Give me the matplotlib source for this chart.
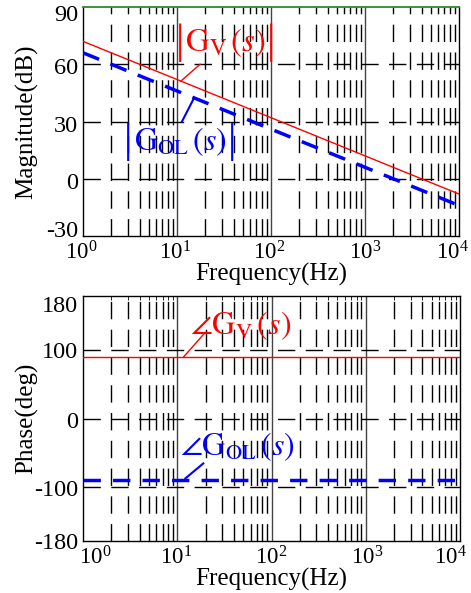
import numpy as np
import matplotlib
matplotlib.use("Agg")
import matplotlib.pyplot as plt
from matplotlib.transforms import ScaledTranslation

plt.rcParams['font.family'] = ['Liberation Serif', 'DejaVu Serif']
plt.rcParams['mathtext.fontset'] = 'stix'
plt.rcParams['axes.unicode_minus'] = False

# ---- data ----
freq_points = [1, 10, 100, 1000, 10000]
gv_mag_db = [72, 52, 32, 12, -8]
gol_mag_db = [66, 46, 26, 6, -14]
gv_phase_deg = [90, 90, 90, 90, 90]
gol_phase_deg = [-90, -90, -90, -90, -90]

mag_ticks = [-30, 0, 30, 60, 90]
phase_ticks = [-180, -100, 0, 100, 180]
decades = [1, 10, 100, 1000, 10000]
decade_labels = [r'$\mathregular{10^{0}}$', r'$\mathregular{10^{1}}$', r'$\mathregular{10^{2}}$',
                 r'$\mathregular{10^{3}}$', r'$\mathregular{10^{4}}$']

W, H = 471, 593
fig = plt.figure(figsize=(W / 100, H / 100), dpi=100)
ax1 = fig.add_axes([83 / W, 1 - 236 / H, 376 / W, 229 / H])
ax2 = fig.add_axes([83 / W, 1 - 541 / H, 377 / W, 245 / H])

grid_ls = (0, (12.5, 7.5))
minor_pos = [m * d for d in decades[:-1] for m in range(2, 10)]


def shift(lab, dx, dy):
    lab.set_transform(lab.get_transform() + ScaledTranslation(dx / 100, dy / 100, fig.dpi_scale_trans))


def style_axes(ax, yticks, ylim, xshift_px, yshift_px):
    ax.set_xscale('log')
    ax.set_xlim(1, 1e4)
    ax.set_ylim(*ylim)
    ax.set_xticks(decades)
    ax.set_xticklabels(decade_labels)
    ax.set_xticks(minor_pos, minor=True)
    ax.set_yticks(yticks)
    ax.tick_params(axis='both', which='both', direction='in', top=True, right=True,
                   color='black')
    ax.tick_params(axis='x', which='major', length=0, pad=3.5, labelsize=16.5)
    ax.tick_params(axis='x', which='minor', length=3)
    ax.tick_params(axis='y', which='major', length=0, pad=3.5, labelsize=17.5)
    for lab, dx in zip(ax.get_xticklabels(), xshift_px):
        shift(lab, dx, 0)
    for lab, dy in zip(ax.get_yticklabels(), yshift_px):
        shift(lab, 0, dy)
    for xm in minor_pos:
        ax.axvline(xm, color='black', lw=1.0, ls=grid_ls, zorder=1)
    for d in decades[1:-1]:
        ax.axvline(d, color='#444444', lw=1.0, zorder=1)
    for yt in yticks[1:-1]:
        ax.axhline(yt, color='black', lw=1.0, ls=grid_ls, zorder=1)
    for s in ax.spines.values():
        s.set_linewidth(1.0)
    ax.set_xlabel('Frequency(Hz)', fontsize=18, labelpad=-0.5)


style_axes(ax1, mag_ticks, (-30, 90), [-2, -2, -2, 0, -7], [7, -2, -2, -2, -6])
style_axes(ax2, phase_ticks, (-180, 180), [12, -1, 0, 1, -10], [0, -1, -1, 0, -8])
ax1.spines['top'].set_color('#2e8b2e')
ax1.spines['top'].set_linewidth(1.3)

ax1.set_ylabel('Magnitude(dB)', fontsize=18)
ax2.set_ylabel('Phase(deg)', fontsize=18)
ax1.yaxis.set_label_coords(-45 / 376, 0.5)
ax2.yaxis.set_label_coords(-45 / 377, 0.5)

# curves
ax1.plot(freq_points, gv_mag_db, color='red', lw=1.0, zorder=3)
ax1.plot(freq_points, gol_mag_db, color='blue', lw=2.5, ls=(0, (5, 3.5)), zorder=3)
ax2.plot(freq_points, gv_phase_deg, color='red', lw=1.0, zorder=3)
ax2.plot(freq_points, gol_phase_deg, color='blue', lw=2.5, ls=(0, (5, 3.5)), zorder=3)


def gv_at(f):
    return np.interp(np.log10(f), np.log10(freq_points), gv_mag_db)


def gol_at(f):
    return np.interp(np.log10(f), np.log10(freq_points), gol_mag_db)


# leader lines
ax1.plot([11, 17.6], [gv_at(11), 60], color='red', lw=1.0, zorder=4)
ax1.plot([11.3, 15.2], [30, gol_at(15.2)], color='blue', lw=1.5, zorder=4)
ax2.plot([11.6, 19.4], [90, 125], color='red', lw=1.0, zorder=4)
ax2.plot([12.2, 18.9], [-88, -66], color='blue', lw=1.5, zorder=4)

# labels
txt_gv = ax1.text(33, 71.5, r'$\mathrm{G}_{\mathrm{V}}\,(s)$', color='red',
                  fontsize=23.5, ha='center', va='center', zorder=5)
txt_gol = ax1.text(10.8, 19.5, r'$\mathrm{G}_{\mathrm{OL}}\,(s)$', color='blue',
                   fontsize=23, ha='center', va='center', zorder=5)
ax2.text(47, 136, r'$\angle\mathrm{G}_{\mathrm{V}}\,(s)$', color='red',
         fontsize=23, ha='center', va='center', zorder=5)
ax2.text(43, -42, r'$\angle\mathrm{G}_{\mathrm{OL}}\,(s)$', color='blue',
         fontsize=23, ha='center', va='center', zorder=5)

fig.canvas.draw()
for t, col in [(txt_gv, 'red'), (txt_gol, 'blue')]:
    bb = t.get_window_extent()
    yc = (bb.y0 + bb.y1) / 2 / fig.dpi
    for xpx, ha in [(bb.x0 - 1, 'right'), (bb.x1 + 1, 'left')]:
        fig.text(xpx / fig.dpi / fig.get_figwidth(), yc / fig.get_figheight(), '|',
                 color=col, fontsize=30, ha=ha, va='center', zorder=5)

fig.savefig('out.png', dpi=100)
